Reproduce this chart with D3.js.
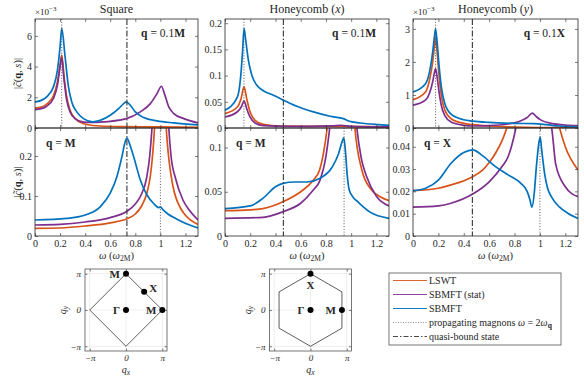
<!DOCTYPE html>
<html>
<head>
<meta charset="utf-8">
<script src="https://cdn.jsdelivr.net/npm/d3@7"></script>
<style>
  body { margin: 0; background: #fff; }
  text { font-family: "Liberation Serif", "DejaVu Serif", serif; fill: #262626; }
</style>
</head>
<body>
<svg id="fig" width="584" height="376"></svg>
<script>
/////////////////////////////////////////////////////////
////////////////////// Data /////////////////////////////
/////////////////////////////////////////////////////////

const omegaTicks = [0, 0.2, 0.4, 0.6, 0.8, 1, 1.2];
const omegaMax = 1.3;

// Square, q = 0.1M  (values x 1e-3)
const sqM01_lswt = [[0,1.3],[0.05,1.36],[0.093,1.55],[0.147,2.1],[0.179,3.0],[0.2,4.1],[0.213,4.75],[0.232,3.33],[0.253,2.03],[0.28,1.15],[0.32,0.61],[0.387,0.28],[0.52,0.13],[0.7,0.09],[1.0,0.07],[1.3,0.05]];
const sqM01_stat = [[0,1.2],[0.05,1.26],[0.093,1.42],[0.147,1.92],[0.179,2.79],[0.2,3.99],[0.213,4.6],[0.232,3.12],[0.253,1.81],[0.28,1.05],[0.32,0.61],[0.387,0.38],[0.45,0.36],[0.52,0.38],[0.728,0.61],[0.84,1.05],[0.92,1.59],[0.973,2.24],[1.008,2.72],[1.032,2.24],[1.067,1.37],[1.107,0.94],[1.187,0.61],[1.3,0.33]];
const sqM01_sbmft = [[0,1.7],[0.05,1.8],[0.093,2.03],[0.147,2.68],[0.179,3.77],[0.2,5.3],[0.213,6.49],[0.24,4.64],[0.267,2.68],[0.293,1.7],[0.333,1.05],[0.387,0.61],[0.46,0.4],[0.52,0.5],[0.6,0.83],[0.667,1.26],[0.707,1.59],[0.728,1.7],[0.76,1.48],[0.8,1.05],[0.867,0.68],[0.973,0.46],[1.107,0.33],[1.3,0.2]];

// Square, q = M
const sqM_lswt = [[0,0.019],[0.2,0.02],[0.4,0.025],[0.6,0.033],[0.733,0.043],[0.8,0.055],[0.85,0.075],[0.89,0.105],[0.92,0.15],[0.94,0.21],[0.955,0.28],[0.975,0.45],[1.0,0.7],[1.025,0.45],[1.045,0.28],[1.065,0.2],[1.1,0.125],[1.16,0.07],[1.2,0.052],[1.3,0.029]];
const sqM_stat = [[0,0.0275],[0.2,0.029],[0.4,0.035],[0.6,0.046],[0.733,0.062],[0.8,0.08],[0.85,0.105],[0.89,0.145],[0.915,0.2],[0.935,0.28],[0.96,0.45],[1.0,0.8],[1.04,0.45],[1.065,0.28],[1.085,0.2],[1.12,0.145],[1.18,0.09],[1.23,0.065],[1.3,0.04]];
const sqM_sbmft = [[0,0.04],[0.253,0.044],[0.4,0.0525],[0.52,0.073],[0.6,0.107],[0.653,0.148],[0.693,0.198],[0.72,0.236],[0.733,0.245],[0.76,0.225],[0.787,0.198],[0.84,0.14],[0.893,0.1025],[0.95,0.08],[0.985,0.071],[1.0,0.073],[1.02,0.066],[1.06,0.055],[1.133,0.042],[1.213,0.03],[1.3,0.02]];

// Honeycomb (x), q = 0.1M
const hxM01_lswt = [[0,0.0275],[0.098,0.04],[0.127,0.056],[0.151,0.0786],[0.172,0.056],[0.198,0.031],[0.238,0.0147],[0.304,0.007],[0.437,0.0038],[0.8,0.003],[1.3,0.002]];
const hxM01_stat = [[0,0.021],[0.098,0.031],[0.132,0.0415],[0.151,0.052],[0.172,0.037],[0.198,0.021],[0.238,0.0096],[0.304,0.0045],[0.5,0.003],[0.85,0.004],[0.92,0.005],[1.0,0.003],[1.3,0.002]];
const hxM01_sbmft = [[0,0.034],[0.098,0.059],[0.124,0.097],[0.14,0.149],[0.151,0.19],[0.164,0.168],[0.185,0.13],[0.212,0.101],[0.251,0.082],[0.304,0.071],[0.384,0.0626],[0.463,0.053],[0.569,0.0415],[0.701,0.0307],[0.833,0.0224],[0.939,0.0179],[0.979,0.0134],[1.071,0.0096],[1.217,0.0064],[1.3,0.0051]];

// Honeycomb (x), q = M
const hxM_lswt = [[0,0.0286],[0.2,0.0295],[0.3,0.031],[0.46,0.0387],[0.6,0.05],[0.7,0.063],[0.75,0.0745],[0.78,0.093],[0.81,0.122],[0.86,0.2],[0.92,0.45],[0.94,0.55],[0.96,0.45],[1.0,0.22],[1.03,0.122],[1.085,0.0745],[1.151,0.0538],[1.23,0.0444],[1.3,0.04]];
const hxM_stat = [[0,0.02],[0.3,0.021],[0.46,0.0274],[0.6,0.037],[0.7,0.052],[0.75,0.062],[0.8,0.09],[0.83,0.122],[0.88,0.2],[0.94,0.5],[1.0,0.2],[1.045,0.122],[1.08,0.088],[1.12,0.068],[1.2,0.045],[1.3,0.034]];
const hxM_sbmft = [[0,0.031],[0.2,0.034],[0.3,0.0425],[0.4,0.0556],[0.46,0.0595],[0.55,0.061],[0.65,0.061],[0.75,0.065],[0.85,0.078],[0.9,0.093],[0.925,0.105],[0.942,0.111],[0.955,0.095],[0.968,0.07],[0.985,0.052],[1.02,0.043],[1.05,0.039],[1.15,0.027],[1.3,0.02]];

// Honeycomb (y), q = 0.1X  (values x 1e-3)
const hyX01_lswt = [[0,0.86],[0.1,1.1],[0.13,1.45],[0.155,2.0],[0.17,2.5],[0.178,2.74],[0.19,2.3],[0.205,1.6],[0.225,0.95],[0.25,0.55],[0.3,0.28],[0.4,0.14],[0.47,0.1],[0.6,0.06],[0.8,0.03],[1.3,0.01]];
const hyX01_stat = [[0,0.69],[0.1,0.85],[0.13,1.05],[0.155,1.4],[0.17,1.7],[0.178,1.8],[0.19,1.55],[0.205,1.1],[0.225,0.65],[0.25,0.38],[0.3,0.18],[0.4,0.08],[0.47,0.06],[0.6,0.07],[0.75,0.12],[0.85,0.22],[0.9,0.32],[0.94,0.45],[0.97,0.35],[1.0,0.26],[1.1,0.13],[1.2,0.09],[1.3,0.07]];
const hyX01_sbmft = [[0,1.09],[0.1,1.35],[0.13,1.7],[0.155,2.3],[0.17,2.8],[0.178,3.0],[0.19,2.6],[0.205,1.9],[0.225,1.2],[0.25,0.75],[0.3,0.42],[0.4,0.25],[0.47,0.21],[0.6,0.17],[0.8,0.14],[0.95,0.13],[1.05,0.1],[1.15,0.06],[1.3,0.03]];

// Honeycomb (y), q = X
const hyX_lswt = [[0,0.0203],[0.2,0.0214],[0.3,0.0229],[0.47,0.0266],[0.55,0.0296],[0.6,0.0329],[0.65,0.0371],[0.7,0.0425],[0.748,0.05],[0.85,0.075],[0.95,0.13],[1.05,0.075],[1.155,0.0484],[1.2,0.04],[1.3,0.0296]];
const hyX_stat = [[0,0.0129],[0.2,0.0135],[0.3,0.0147],[0.47,0.0188],[0.6,0.0243],[0.7,0.031],[0.75,0.0356],[0.78,0.041],[0.81,0.0484],[0.87,0.075],[0.95,0.12],[1.03,0.075],[1.1,0.045],[1.125,0.032],[1.2,0.0221],[1.3,0.0176]];
const hyX_sbmft = [[0,0.0203],[0.1,0.0214],[0.2,0.025],[0.3,0.0326],[0.4,0.0374],[0.47,0.0386],[0.55,0.0359],[0.65,0.0311],[0.75,0.0274],[0.85,0.0236],[0.9,0.0199],[0.92,0.0165],[0.937,0.0129],[0.955,0.019],[0.972,0.031],[0.99,0.041],[1.002,0.0443],[1.015,0.038],[1.037,0.028],[1.06,0.0215],[1.09,0.0176],[1.155,0.0129],[1.22,0.0102],[1.3,0.0079]];

// propagating magnons (2 omega_q) and quasi-bound state positions
const sqMagnon = [0.213, 1.0], sqBound = 0.733;
const hxMagnon = [0.15, 0.944], hxBound = 0.463;
const hyMagnon = [0.178, 1.0], hyBound = 0.468;

// Brillouin zones
const PI = Math.PI;
const bzTicks = [-PI, 0, PI];
const bzTickLabels = ["\u2212\u03c0", "0", "\u03c0"];
const squareBZ = [[0, PI], [PI, 0], [0, -PI], [-PI, 0]];
const honeyBZ = [[0, PI], [PI*Math.sqrt(3)/2, PI/2], [PI*Math.sqrt(3)/2, -PI/2], [0, -PI], [-PI*Math.sqrt(3)/2, -PI/2], [-PI*Math.sqrt(3)/2, PI/2]];
const squarePts = [{q:[0, PI], name:"M", side:"left"}, {q:[PI/2, PI/2], name:"X", side:"upright"}, {q:[0, 0], name:"\u0393", side:"left"}, {q:[PI, 0], name:"M", side:"left"}];
const honeyPts = [{q:[0, PI], name:"X", side:"below"}, {q:[0, 0], name:"\u0393", side:"left"}, {q:[PI*Math.sqrt(3)/2, 0], name:"M", side:"left"}];

const legendItems = ["LSWT", "SBMFT (stat)", "SBMFT", "magnon", "bound"];

/////////////////////////////////////////////////////////
///////////////////// Drawing ///////////////////////////
/////////////////////////////////////////////////////////

const svg = d3.select("#fig");
const colors = { lswt: "#D95319", stat: "#7E2F8E", sbmft: "#0072BD" };
const axisColor = "#262626";
const tickFont = "10px";

const panels = [
  {id:"A", x0:35, x1:198, y0:19, y1:128, ymax:7.1, yticks:[0,2,4,6], exp:true, top:true,
   data:[sqM01_lswt, sqM01_stat, sqM01_sbmft], magnon:sqMagnon[0], bound:sqBound, label:["0.1","M"], title:"Square"},
  {id:"B", x0:35, x1:198, y0:128, y1:236, ymax:0.27, yticks:[0,0.1,0.2], top:false,
   data:[sqM_lswt, sqM_stat, sqM_sbmft], magnon:sqMagnon[1], bound:sqBound, label:["","M"]},
  {id:"C", x0:225, x1:389, y0:19, y1:128, ymax:0.208, yticks:[0,0.05,0.1,0.15,0.2], top:true,
   data:[hxM01_lswt, hxM01_stat, hxM01_sbmft], magnon:hxMagnon[0], bound:hxBound, label:["0.1","M"], title:"Honeycomb (x)"},
  {id:"D", x0:225, x1:389, y0:128, y1:236, ymax:0.122, yticks:[0,0.05,0.1], top:false,
   data:[hxM_lswt, hxM_stat, hxM_sbmft], magnon:hxMagnon[1], bound:hxBound, label:["","M"]},
  {id:"E", x0:413, x1:578, y0:19, y1:128, ymax:3.3, yticks:[0,1,2,3], exp:true, top:true,
   data:[hyX01_lswt, hyX01_stat, hyX01_sbmft], magnon:hyMagnon[0], bound:hyBound, label:["0.1","X"], title:"Honeycomb (y)"},
  {id:"F", x0:413, x1:578, y0:128, y1:236, ymax:0.0484, yticks:[0,0.01,0.02,0.03,0.04], top:false,
   data:[hyX_lswt, hyX_stat, hyX_sbmft], magnon:hyMagnon[1], bound:hyBound, label:["","X"]}
];

function styleAxis(g) {
  g.select(".domain").remove();
  g.selectAll(".tick line").attr("stroke", axisColor).attr("stroke-width", 0.6);
  g.selectAll(".tick text").attr("fill", axisColor).style("font-size", tickFont)
    .style("font-family", "'Liberation Serif', serif");
}

panels.forEach(p => {
  const x = d3.scaleLinear().domain([0, omegaMax]).range([p.x0, p.x1]);
  const y = d3.scaleLinear().domain([0, p.ymax]).range([p.y1, p.y0]);
  const g = svg.append("g");

  svg.append("clipPath").attr("id", "clip" + p.id)
    .append("rect").attr("x", p.x0).attr("y", p.y0)
    .attr("width", p.x1 - p.x0).attr("height", p.y1 - p.y0);

  //The curves, clipped to the axes
  const line = d3.line().x(d => x(d[0])).y(d => y(d[1])).curve(d3.curveMonotoneX);
  const cg = g.append("g").attr("clip-path", "url(#clip" + p.id + ")");
  ["lswt", "stat", "sbmft"].forEach((k, i) => {
    cg.append("path").datum(p.data[i])
      .attr("d", line)
      .attr("fill", "none")
      .attr("stroke", colors[k])
      .attr("stroke-width", 1.7)
      .attr("stroke-linejoin", "round");
  });

  //Vertical reference lines
  cg.append("line")
    .attr("x1", x(p.magnon)).attr("x2", x(p.magnon))
    .attr("y1", p.y0).attr("y2", p.y1)
    .attr("stroke", "#555").attr("stroke-width", 1)
    .attr("stroke-dasharray", "1,1.8");
  cg.append("line")
    .attr("x1", x(p.bound)).attr("x2", x(p.bound))
    .attr("y1", p.y0).attr("y2", p.y1)
    .attr("stroke", "#444").attr("stroke-width", 1.2)
    .attr("stroke-dasharray", "6,2,1.5,2");

  //Axes with inward ticks on all four sides
  const xb = g.append("g").attr("transform", "translate(0," + p.y1 + ")")
    .call(d3.axisBottom(x).tickValues(omegaTicks).tickSize(-3).tickPadding(4)
      .tickFormat(p.top ? "" : d => String(d)));
  styleAxis(xb);
  const xt = g.append("g").attr("transform", "translate(0," + p.y0 + ")")
    .call(d3.axisTop(x).tickValues(omegaTicks).tickSize(-3).tickFormat(""));
  styleAxis(xt);
  const yl = g.append("g").attr("transform", "translate(" + p.x0 + ",0)")
    .call(d3.axisLeft(y).tickValues(p.yticks).tickSize(-3).tickPadding(3).tickFormat(d => String(d)));
  styleAxis(yl);
  const yr = g.append("g").attr("transform", "translate(" + p.x1 + ",0)")
    .call(d3.axisRight(y).tickValues(p.yticks).tickSize(-3).tickFormat(""));
  styleAxis(yr);

  g.append("rect")
    .attr("x", p.x0).attr("y", p.y0)
    .attr("width", p.x1 - p.x0).attr("height", p.y1 - p.y0)
    .attr("fill", "none").attr("stroke", axisColor).attr("stroke-width", 0.8);

  //Exponent label
  if (p.exp) {
    const t = g.append("text").attr("x", p.x0).attr("y", 15).style("font-size", "9px");
    t.append("tspan").text("\u00d710");
    t.append("tspan").attr("dy", -4).style("font-size", "7px").text("\u22123");
  }

  //Title
  if (p.title) {
    const t = g.append("text").attr("x", (p.x0 + p.x1) / 2).attr("y", 13)
      .attr("text-anchor", "middle").style("font-size", "12px");
    if (p.title.endsWith(")")) {
      const parts = p.title.match(/^(.*\()(.)(\))$/);
      t.append("tspan").text(parts[1]);
      t.append("tspan").style("font-style", "italic").text(parts[2]);
      t.append("tspan").text(parts[3]);
    } else {
      t.text(p.title);
    }
  }

  //q annotation
  const a = g.append("text").style("font-size", "11.5px");
  if (p.top) a.attr("x", p.x1 - 13).attr("y", p.y0 + 18).attr("text-anchor", "end");
  else a.attr("x", p.x0 + 11).attr("y", p.y0 + 19);
  a.append("tspan").style("font-weight", "bold").text("q");
  a.append("tspan").text(" = " + p.label[0]);
  a.append("tspan").style("font-weight", "bold").text(p.label[1]);

  //x axis label on the lower panels
  if (!p.top) {
    const t = g.append("text").attr("x", (p.x0 + p.x1) / 2).attr("y", 259)
      .attr("text-anchor", "middle").style("font-size", "10.5px");
    t.append("tspan").style("font-style", "italic").text("\u03c9");
    t.append("tspan").text(" (");
    t.append("tspan").style("font-style", "italic").text("\u03c9");
    t.append("tspan").attr("dy", 2).style("font-size", "7.5px").text("2M");
    t.append("tspan").attr("dy", -2).text(")");
  }

  //y axis label on the left column
  if (p.x0 === 35) {
    const t = g.append("text")
      .attr("transform", "translate(21," + (p.y0 + p.y1) / 2 + ") rotate(-90)")
      .attr("text-anchor", "middle").style("font-size", "10.5px");
    t.append("tspan").text("|");
    t.append("tspan").style("font-style", "italic").text("c\u0303");
    t.append("tspan").text("(");
    t.append("tspan").style("font-weight", "bold").text("q");
    t.append("tspan").text(", ");
    t.append("tspan").style("font-style", "italic").text("s");
    t.append("tspan").text(")|");
  }
});

/////////////////////////////////////////////////////////
//////////////// Brillouin zone insets //////////////////
/////////////////////////////////////////////////////////

const bzLim = 1.13 * PI;

function drawBZ(x0, y0, size, outline, pts) {
  const x = d3.scaleLinear().domain([-bzLim, bzLim]).range([x0, x0 + size]);
  const y = d3.scaleLinear().domain([-bzLim, bzLim]).range([y0 + size, y0]);
  const g = svg.append("g");

  //light grid
  bzTicks.forEach(v => {
    g.append("line").attr("x1", x(v)).attr("x2", x(v)).attr("y1", y0).attr("y2", y0 + size)
      .attr("stroke", "#e3e3e3").attr("stroke-width", 0.6);
    g.append("line").attr("y1", y(v)).attr("y2", y(v)).attr("x1", x0).attr("x2", x0 + size)
      .attr("stroke", "#e3e3e3").attr("stroke-width", 0.6);
  });

  const xb = g.append("g").attr("transform", "translate(0," + (y0 + size) + ")")
    .call(d3.axisBottom(x).tickValues(bzTicks).tickSize(-2.5).tickPadding(4)
      .tickFormat((d, i) => bzTickLabels[i]));
  styleAxis(xb);
  xb.selectAll(".tick text").style("font-style", "italic").style("font-size", "9px");
  const yl = g.append("g").attr("transform", "translate(" + x0 + ",0)")
    .call(d3.axisLeft(y).tickValues(bzTicks).tickSize(-2.5).tickPadding(4)
      .tickFormat((d, i) => bzTickLabels[i]));
  styleAxis(yl);
  yl.selectAll(".tick text").style("font-style", "italic").style("font-size", "9px");
  g.append("g").attr("transform", "translate(0," + y0 + ")")
    .call(d3.axisTop(x).tickValues(bzTicks).tickSize(-2.5).tickFormat("")).call(styleAxis);
  g.append("g").attr("transform", "translate(" + (x0 + size) + ",0)")
    .call(d3.axisRight(y).tickValues(bzTicks).tickSize(-2.5).tickFormat("")).call(styleAxis);

  g.append("rect").attr("x", x0).attr("y", y0).attr("width", size).attr("height", size)
    .attr("fill", "none").attr("stroke", "#555").attr("stroke-width", 0.8);

  g.append("path")
    .datum(outline)
    .attr("d", d3.line().x(d => x(d[0])).y(d => y(d[1])).curve(d3.curveLinearClosed))
    .attr("fill", "none").attr("stroke", "#333").attr("stroke-width", 0.8);

  pts.forEach(pt => {
    const cx = x(pt.q[0]), cy = y(pt.q[1]);
    g.append("circle").attr("cx", cx).attr("cy", cy).attr("r", 3).attr("fill", "#000");
    const t = g.append("text").style("font-size", "11px").style("font-weight", "bold")
      .attr("fill", "#111").text(pt.name);
    if (pt.side === "left") t.attr("x", cx - 6).attr("y", cy + 4).attr("text-anchor", "end");
    else if (pt.side === "upright") t.attr("x", cx + 5).attr("y", cy).attr("text-anchor", "start");
    else t.attr("x", cx).attr("y", cy + 15).attr("text-anchor", "middle");
  });

  //axis labels
  const lx = g.append("text").attr("x", x0 + size / 2).attr("y", y0 + size + 22)
    .attr("text-anchor", "middle").style("font-size", "10px");
  lx.append("tspan").style("font-style", "italic").text("q");
  lx.append("tspan").attr("dy", 2).style("font-size", "7.5px").style("font-style", "italic").text("x");
  const ly = g.append("text")
    .attr("transform", "translate(" + (x0 - 19) + "," + (y0 + size / 2) + ") rotate(-90)")
    .attr("text-anchor", "middle").style("font-size", "10px");
  ly.append("tspan").style("font-style", "italic").text("q");
  ly.append("tspan").attr("dy", 2).style("font-size", "7.5px").style("font-style", "italic").text("y");
}

drawBZ(85, 269, 82, squareBZ, squarePts);
drawBZ(269.5, 269, 82, honeyBZ, honeyPts);

/////////////////////////////////////////////////////////
////////////////////// Legend ///////////////////////////
/////////////////////////////////////////////////////////

const legend = svg.append("g");
legend.append("rect").attr("x", 389).attr("y", 273).attr("width", 172).attr("height", 72)
  .attr("fill", "#fff").attr("stroke", "#555").attr("stroke-width", 0.8);

legendItems.forEach((name, i) => {
  const ly = 280.5 + i * 14;
  const ln = legend.append("line").attr("x1", 393).attr("x2", 427).attr("y1", ly).attr("y2", ly);
  const t = legend.append("text").attr("x", 429).attr("y", ly + 3.5).style("font-size", "10px");
  if (i < 3) {
    ln.attr("stroke", colors[["lswt", "stat", "sbmft"][i]]).attr("stroke-width", 0.9);
    t.text(name);
  } else if (name === "magnon") {
    ln.attr("stroke", "#777").attr("stroke-width", 0.8).attr("stroke-dasharray", "1,1.5");
    t.append("tspan").text("propagating magnons ");
    t.append("tspan").style("font-style", "italic").text("\u03c9");
    t.append("tspan").text(" = 2");
    t.append("tspan").style("font-style", "italic").text("\u03c9");
    t.append("tspan").attr("dy", 2).style("font-size", "7.5px").style("font-weight", "bold").text("q");
  } else {
    ln.attr("stroke", "#333").attr("stroke-width", 0.9).attr("stroke-dasharray", "5,2,1.5,2");
    t.text("quasi-bound state");
  }
});
</script>
</body>
</html>
